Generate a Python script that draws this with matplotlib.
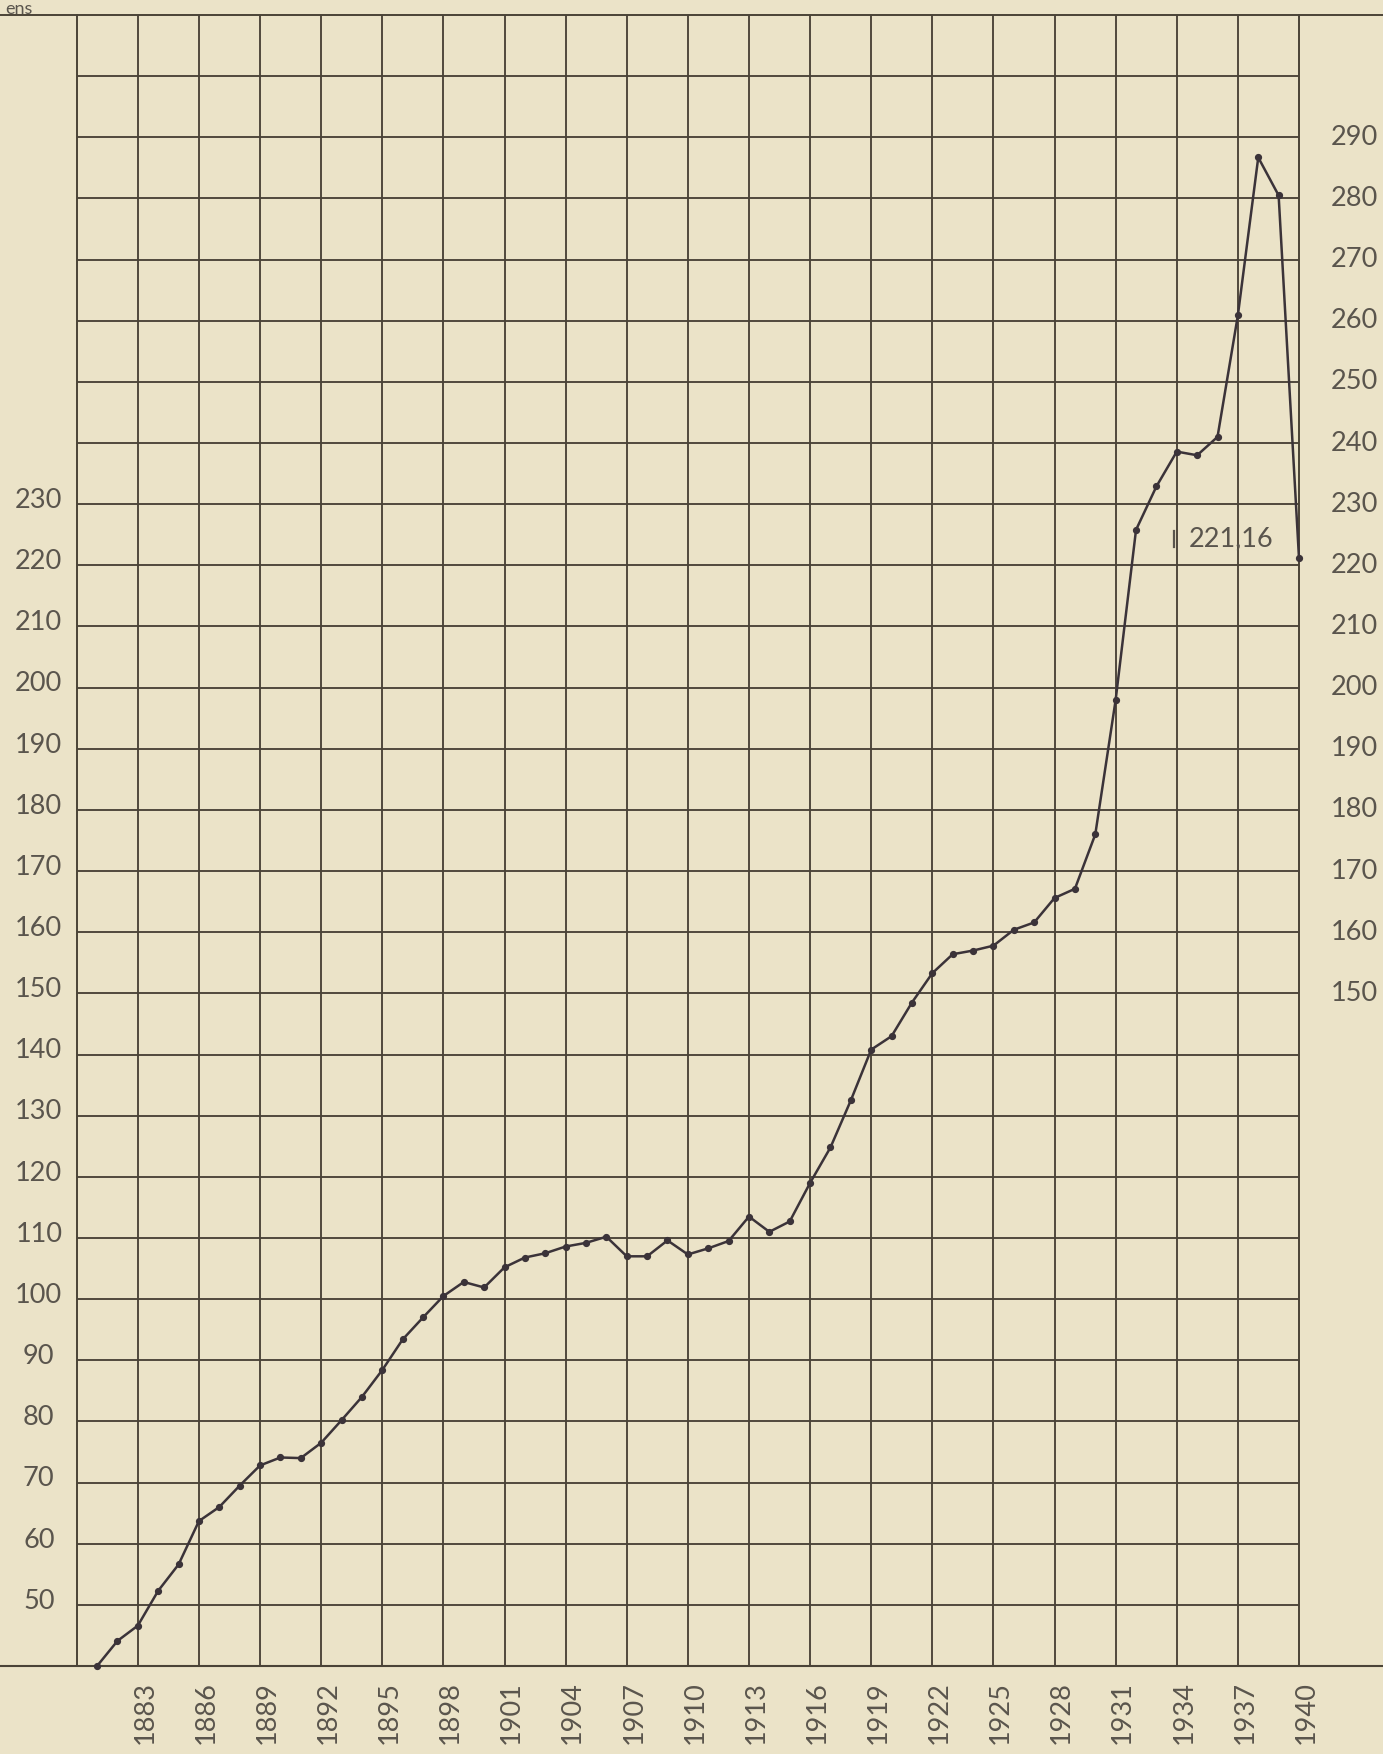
import matplotlib
matplotlib.use("Agg")
import matplotlib.pyplot as plt
import matplotlib.transforms as mtransforms

# ---------------- data ----------------
years = list(range(1881, 1941))
values = [40.0, 44.1, 46.6, 52.3, 56.6, 63.7, 66.0, 69.5, 72.8, 74.1,
          74.0, 76.5, 80.2, 84.0, 88.4, 93.4, 97.0, 100.5, 102.8, 101.9,
          105.2, 106.8, 107.5, 108.6, 109.2, 110.2, 107.0, 107.0, 109.6, 107.3,
          108.3, 109.5, 113.5, 111.0, 112.7, 119.0, 124.8, 132.5, 140.8, 143.0,
          148.5, 153.3, 156.4, 157.0, 157.8, 160.4, 161.6, 165.6, 167.1, 176.0,
          198.0, 225.8, 232.9, 238.6, 238.0, 241.0, 260.9, 286.7, 280.5, 221.16]
year_labels = [str(y) for y in range(1883, 1941, 3)]
left_labels = list(range(50, 240, 10))
right_labels = list(range(150, 300, 10))
last_label = "221,16"
top_label = "ens"

# ---------------- style ----------------
BG = "#ebe3c8"
GRID = "#4a4337"
LINE = "#3b3339"
TXT = "#5a554d"
FONT = ["Lato", "DejaVu Sans"]
FS = 19.5

fig = plt.figure(figsize=(13.83, 17.54), dpi=100, facecolor=BG)
W, H = 1383, 1754
x0, x1 = 76.7, 1299
y0, y1 = 1666, 15
ax = fig.add_axes([x0 / W, 1 - y0 / H, (x1 - x0) / W, (y0 - y1) / H])
ax.set_facecolor(BG)
ax.set_xlim(1880, 1940)
ax.set_ylim(40, 310)

# grid
for yv in range(50, 310, 10):
    ax.axhline(yv, color=GRID, lw=1.35, zorder=1)
for xv in range(1883, 1940, 3):
    ax.axvline(xv, color=GRID, lw=1.35, zorder=1)
for s in ["left", "right"]:
    ax.spines[s].set_color(GRID)
    ax.spines[s].set_linewidth(1.4)
for s in ["top", "bottom"]:
    ax.spines[s].set_visible(False)
# top and bottom lines extending across the page
ax.axhline(310, xmin=-0.07, xmax=1.07, color=GRID, lw=1.4, clip_on=False, zorder=1)
ax.axhline(40, xmin=-0.07, xmax=1.07, color=GRID, lw=1.5, clip_on=False, zorder=1)

ax.set_xticks([])
ax.set_yticks([])

# data
ax.plot(years, values, color=LINE, lw=1.8, marker="o", ms=4.2,
        mfc=LINE, mec=LINE, zorder=3, clip_on=False)

# left / right value labels
tl = mtransforms.blended_transform_factory(ax.transAxes, ax.transData)
for v in left_labels:
    ax.text(-0.031, v + 0.6, str(v), transform=tl, ha="center", va="center",
            fontsize=FS, color=TXT, family=FONT)
for v in right_labels:
    ax.text(1.045, v, str(v), transform=tl, ha="center", va="center",
            fontsize=FS, color=TXT, family=FONT)

# year labels
tb = mtransforms.blended_transform_factory(ax.transData, ax.transAxes)
for lab in year_labels:
    ax.text(int(lab) + 0.35, -0.028, lab, transform=tb, rotation=90,
            ha="center", va="center", fontsize=FS, color=TXT, family=FONT)

# annotation of last value
ax.text(1934.6, 224.3, last_label, ha="left", va="center", fontsize=FS,
        color=TXT, family=FONT, zorder=4)
ax.plot([1933.85, 1933.85], [223.0, 225.6], color=TXT, lw=1.6, zorder=4)

# heading fragment at top left
fig.text(0.004, 0.9995, top_label, ha="left", va="top", fontsize=13,
         color=TXT, family=FONT)

fig.savefig("out.png", dpi=100, facecolor=BG)
